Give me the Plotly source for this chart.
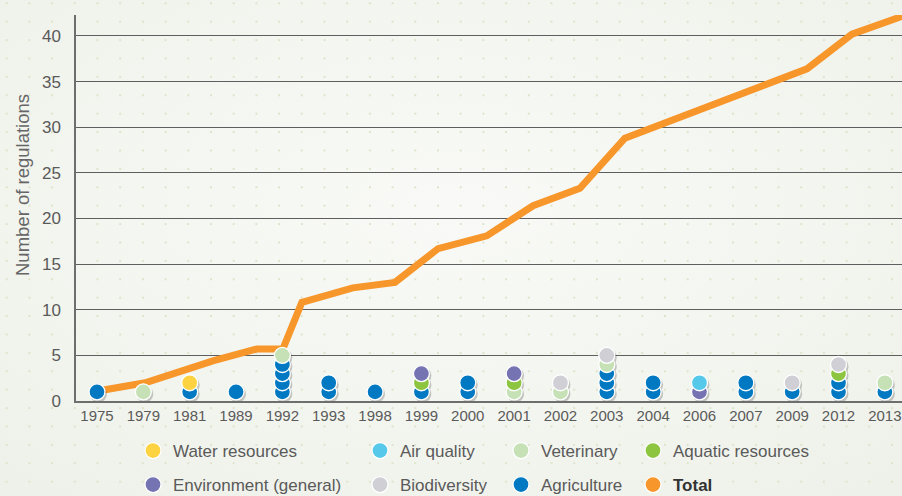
import base64
import plotly.graph_objects as go

# ---- data -------------------------------------------------------------
years = ["1975", "1979", "1981", "1989", "1992", "1993", "1998", "1999", "2000",
         "2001", "2002", "2003", "2004", "2006", "2007", "2009", "2012", "2013"]

# regulations adopted per year, by sector (stacked bottom-up in this order)
agriculture  = [1, 0, 1, 1, 4, 2, 1, 1, 2, 0, 0, 3, 2, 0, 2, 1, 2, 1]
veterinary   = [0, 1, 0, 0, 1, 0, 0, 0, 0, 1, 1, 1, 0, 0, 0, 0, 0, 1]
aquatic      = [0, 0, 0, 0, 0, 0, 0, 1, 0, 1, 0, 0, 0, 0, 0, 0, 1, 0]
environment  = [0, 0, 0, 0, 0, 0, 0, 1, 0, 1, 0, 0, 0, 1, 0, 0, 0, 0]
water        = [0, 0, 1, 0, 0, 0, 0, 0, 0, 0, 0, 0, 0, 0, 0, 0, 0, 0]
air          = [0, 0, 0, 0, 0, 0, 0, 0, 0, 0, 0, 0, 0, 1, 0, 0, 0, 0]
biodiversity = [0, 0, 0, 0, 0, 0, 0, 0, 0, 0, 1, 1, 0, 0, 0, 1, 1, 0]

# running total curve (position along the year axis, number of regulations)
total_pos = [0.02, 1.04, 2.50, 3.45, 4.01, 4.42, 5.52, 6.43, 7.36, 8.41,
             9.41, 10.42, 11.39, 15.32, 16.29, 17.40]
total_val = [1.1, 2.0, 4.4, 5.7, 5.7, 10.8, 12.4, 13.0, 16.7, 18.1,
             21.4, 23.3, 28.8, 36.4, 40.2, 42.2]

y_ticks = [0, 5, 10, 15, 20, 25, 30, 35, 40]

# ---- styling ------------------------------------------------------------
W, H = 902, 496
ML, MR, MT, MB = 76, 0, 15, 95
PW, PH = W - ML - MR, H - MT - MB
FONT = "Liberation Sans, Arial, sans-serif"
TXT = "#5a5a5a"

sectors = [
    ("Agriculture", agriculture, "#0079c2"),
    ("Veterinary", veterinary, "#c5e1b5"),
    ("Aquatic resources", aquatic, "#8dc540"),
    ("Environment (general)", environment, "#7673b3"),
    ("Water resources", water, "#fdd341"),
    ("Air quality", air, "#56c9eb"),
    ("Biodiversity", biodiversity, "#cfcfd5"),
]
TOTAL_COLOR = "#f7962b"

x_range = [-0.453, 17.37]
y_range = [0, 42.3]
px_x = PW / (x_range[1] - x_range[0])
px_y = PH / (y_range[1] - y_range[0])

# stack every sector's dots on top of the ones below it
stack = [0] * len(years)
dot_sets = []
for name, counts, color in sectors:
    xs, ys = [], []
    for i, c in enumerate(counts):
        for _ in range(c):
            stack[i] += 1
            xs.append(i)
            ys.append(stack[i])
    dot_sets.append((name, color, xs, ys))

fig = go.Figure()

# running total line
fig.add_trace(go.Scatter(
    x=total_pos, y=total_val, mode="lines",
    line=dict(color=TOTAL_COLOR, width=7),
    showlegend=False, hoverinfo="skip", xaxis="x", yaxis="y"))

# soft drop shadows under the dots
sx = [x for _, _, xs, _ in dot_sets for x in xs]
sy = [y for _, _, _, ys in dot_sets for y in ys]
fig.add_trace(go.Scatter(
    x=sx, y=sy, mode="markers",
    marker=dict(size=17, color="rgba(70,70,70,0.28)", line=dict(width=0)),
    showlegend=False, hoverinfo="skip", xaxis="x2", yaxis="y2"))

legend_slots = {
    "Water resources": (0, 0), "Air quality": (1, 0), "Veterinary": (2, 0),
    "Aquatic resources": (3, 0), "Environment (general)": (0, 1),
    "Biodiversity": (1, 1), "Agriculture": (2, 1), "Total": (3, 1),
}
col_px = [153, 380, 521, 653]
row_px = [451, 485]
legend_ids = {}
for k, name in enumerate(legend_slots):
    legend_ids[name] = "legend" if k == 0 else f"legend{k + 1}"

for name, color, xs, ys in dot_sets:
    fig.add_trace(go.Scatter(
        x=xs, y=ys, mode="markers", name=name,
        marker=dict(size=16, color=color, line=dict(color="white", width=1.3)),
        xaxis="x3", yaxis="y3", legend=legend_ids[name]))

# legend entry for the total line
fig.add_trace(go.Scatter(
    x=[None], y=[None], mode="markers", name="<b>Total</b>",
    marker=dict(size=16, color=TOTAL_COLOR, line=dict(color="white", width=1.3)),
    xaxis="x3", yaxis="y3", legend=legend_ids["Total"]))

# background: soft gradient with a fine dot grid
bg_svg = f'''<svg xmlns="http://www.w3.org/2000/svg" width="{W}" height="{H}" viewBox="0 0 {W} {H}">
<defs>
<radialGradient id="g" cx="0.5" cy="0.42" r="0.75">
<stop offset="0" stop-color="#f9faf7"/>
<stop offset="1" stop-color="#eef1e9"/>
</radialGradient>
<pattern id="p" x="5.7" y="2.3" width="22.7" height="18.4" patternUnits="userSpaceOnUse">
<rect width="2" height="2" fill="#dfe3cb"/>
</pattern>
</defs>
<rect width="{W}" height="{H}" fill="url(#g)"/>
<rect width="{W}" height="{H}" fill="url(#p)"/>
</svg>'''
bg_uri = "data:image/svg+xml;base64," + base64.b64encode(bg_svg.encode()).decode()

layout = dict(
    width=W, height=H,
    margin=dict(l=ML, r=MR, t=MT, b=MB, pad=0, autoexpand=False),
    paper_bgcolor="#f3f5f0", plot_bgcolor="rgba(0,0,0,0)",
    font=dict(family=FONT, color=TXT),
    images=[dict(source=bg_uri, xref="paper", yref="paper",
                 x=-ML / PW, y=1 + MT / PH, sizex=W / PW, sizey=H / PH,
                 xanchor="left", yanchor="top", sizing="stretch", layer="below")],
    xaxis=dict(range=x_range, tickmode="array", tickvals=list(range(len(years))),
               ticktext=years, showgrid=False, zeroline=False, showline=True,
               linecolor="#6e6e6e", linewidth=1.5, ticks="",
               tickfont=dict(size=15, color=TXT), fixedrange=True),
    yaxis=dict(range=y_range, tickmode="array", tickvals=y_ticks,
               showgrid=True, gridcolor="#5e5e5e", gridwidth=1.2,
               zeroline=False, showline=True, linecolor="#6e6e6e", linewidth=1.5,
               ticks="", ticklabelstandoff=10,
               tickfont=dict(size=17, color=TXT), fixedrange=True),
    xaxis2=dict(overlaying="x", visible=False,
                range=[x_range[0] - 1.5 / px_x, x_range[1] - 1.5 / px_x]),
    yaxis2=dict(overlaying="y", visible=False,
                range=[y_range[0] + 2.0 / px_y, y_range[1] + 2.0 / px_y]),
    xaxis3=dict(overlaying="x", visible=False, range=x_range),
    yaxis3=dict(overlaying="y", visible=False, range=y_range),
    annotations=[dict(text="Number of regulations", textangle=-90,
                      xref="paper", yref="paper",
                      x=(22 - ML) / PW, y=(H - MB - 185) / PH,
                      xanchor="center", yanchor="middle", showarrow=False,
                      font=dict(size=18.5, color="#666666"))],
)

for name, (c, r) in legend_slots.items():
    lid = legend_ids[name]
    layout[lid] = dict(
        x=(col_px[c] - 20 - ML) / PW, y=(H - MB - row_px[r]) / PH,
        xanchor="left", yanchor="middle", bgcolor="rgba(0,0,0,0)",
        borderwidth=0, itemsizing="trace",
        font=dict(size=17, color="#333333" if name == "Total" else TXT,
                  family=FONT))

fig.update_layout(**layout)
fig.write_html("out.html")
